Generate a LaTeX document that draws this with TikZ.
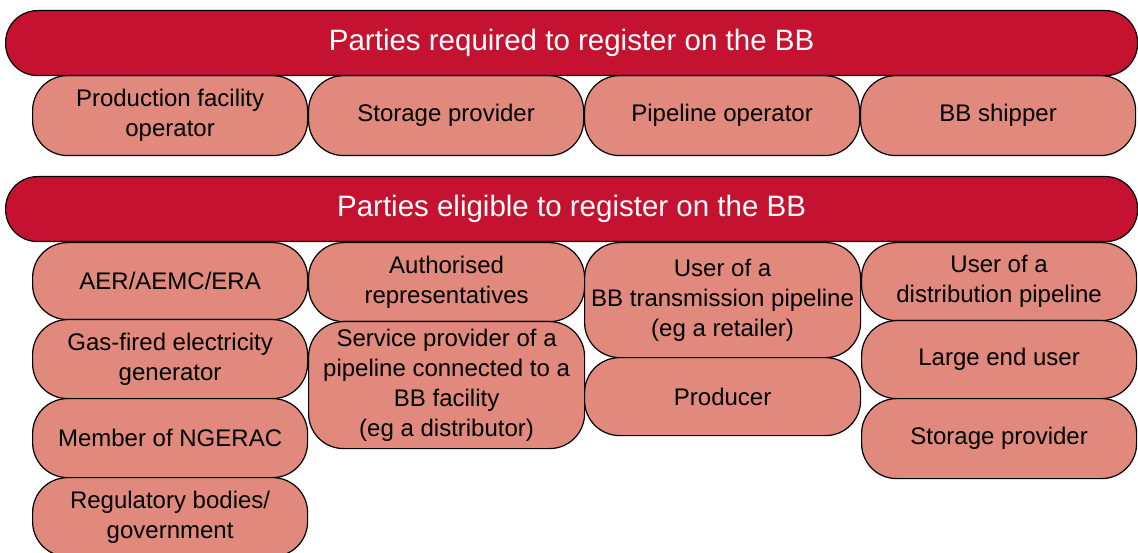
\documentclass[tikz,border=0pt]{standalone}
\usepackage{fontspec}
\setmainfont{Liberation Sans}
\definecolor{hdrred}{HTML}{C41230}
\definecolor{salmon}{HTML}{E0897C}
\tikzset{
  hdr/.style={draw=black, line width=1.2pt, fill=hdrred, rounded corners=32pt, text=white,
    font=\fontsize{29.5}{34}\selectfont, inner sep=0pt, anchor=north west,
    minimum width=1132pt, minimum height=65pt},
  pbox/.style={draw=black, line width=1.2pt, fill=salmon, rounded corners=35pt, text=black,
    font=\fontsize{24}{30}\selectfont, align=center, inner sep=0pt, anchor=north west},
}
\begin{document}
\begin{tikzpicture}[x=1pt,y=-1pt]
\useasboundingbox (0,0) rectangle (1138,553);
% row 1 boxes
\node[pbox, minimum width=275pt, minimum height=80pt] (r1) at (32,75) {Production facility\\operator};
\node[pbox, minimum width=275pt, minimum height=80pt] (r2) at (308,75) {Storage provider};
\node[pbox, minimum width=275pt, minimum height=80pt] (r3) at (584,75) {Pipeline operator};
\node[pbox, minimum width=275pt, minimum height=80pt] (r4) at (860,75) {BB shipper};
\node[hdr] (h1) at (5,10) {Parties required to register on the BB};
% row 2 column 1
\node[pbox, minimum width=275pt, minimum height=77pt] (a1) at (32,242) {AER/AEMC/ERA};
\node[pbox, minimum width=275pt, minimum height=79pt] (a2) at (32,319) {Gas-fired electricity\\generator};
\node[pbox, minimum width=275pt, minimum height=79pt] (a3) at (32,398) {Member of NGERAC};
\node[pbox, minimum width=275pt, minimum height=79pt] (a4) at (32,477) {Regulatory bodies/\\government};
% column 2
\node[pbox, minimum width=276pt, minimum height=79pt] (b1) at (308,242) {Authorised\\representatives};
\node[pbox, minimum width=276pt, minimum height=127pt] (b2) at (308,321) {Service provider of a\\pipeline connected to a\\BB facility\\(eg a distributor)};
% column 3
\node[pbox, minimum width=276pt, minimum height=115pt] (c1) at (584,242) {User of a\\BB transmission pipeline\\(eg a retailer)};
\node[pbox, minimum width=276pt, minimum height=78pt] (c2) at (584,357) {Producer};
% column 4
\node[pbox, minimum width=275pt, minimum height=78pt] (d1) at (861,242) {User of a\\distribution pipeline};
\node[pbox, minimum width=275pt, minimum height=78pt] (d2) at (861,320) {Large end user};
\node[pbox, minimum width=275pt, minimum height=80pt] (d3) at (861,398) {Storage provider};
\node[hdr] (h2) at (5,176) {Parties eligible to register on the BB};
\end{tikzpicture}
\end{document}
